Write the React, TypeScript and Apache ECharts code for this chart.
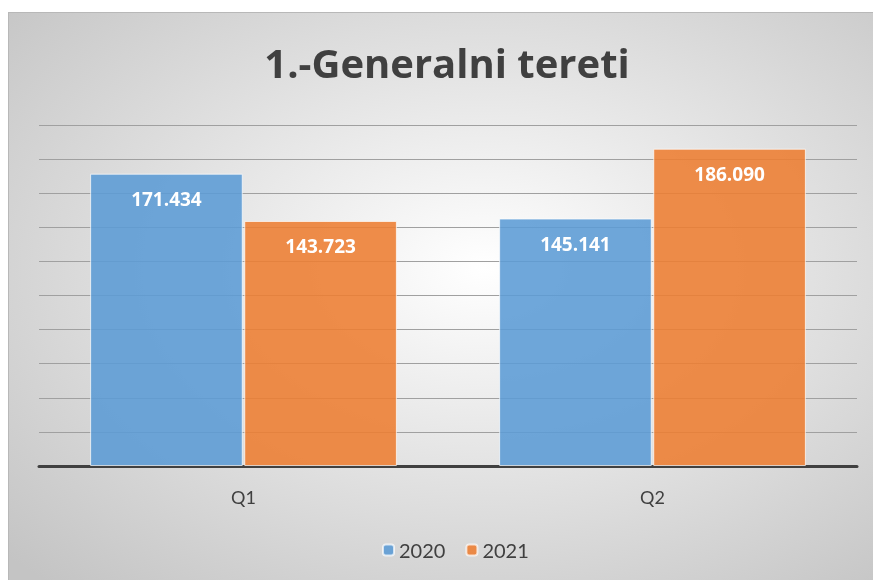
import React, { useEffect, useRef } from "react";
import * as echarts from "echarts";

const categories = ["Q1", "Q2"];
const series2020 = [171.434, 145.141];
const series2021 = [143.723, 186.09];
const seriesNames = ["2020", "2021"];

const fmt = (v: number) => v.toFixed(3);

export default function App() {
  const ref = useRef<HTMLDivElement>(null);
  useEffect(() => {
    if (!ref.current) return;
    const chart = echarts.init(ref.current, null, { renderer: "svg" });
    const font = "Lato, 'Open Sans', sans-serif";
    const boldFont = "'Open Sans', Lato, sans-serif";
    const label = {
      show: true,
      position: "insideTop",
      distance: 16,
      formatter: (p: any) => fmt(p.value),
      fontFamily: boldFont,
      fontSize: 19,
      fontWeight: "bold",
      color: "#ffffff",
    };
    chart.setOption({
      animation: false,
      backgroundColor: {
        type: "radial",
        x: 0.55,
        y: 0.45,
        r: 0.75,
        colorStops: [
          { offset: 0, color: "#ffffff" },
          { offset: 1, color: "#c4c4c4" },
        ],
      },
      title: {
        text: "1.-Generalni tereti",
        left: 433,
        top: 24,
        textAlign: "center",
        textStyle: { fontFamily: boldFont, fontSize: 40, fontWeight: "bold", color: "#404040" },
      },
      legend: {
        bottom: 15,
        left: 368,
        itemWidth: 11,
        itemHeight: 11,
        itemGap: 20,
        data: seriesNames,
        textStyle: { fontFamily: font, fontSize: 20, color: "#404040" },
      },
      grid: { left: 30, right: 16, top: 112, bottom: 114, containLabel: false },
      xAxis: {
        type: "category",
        data: categories,
        axisLine: { lineStyle: { color: "#404040", width: 3 } },
        axisTick: { show: false },
        axisLabel: { fontFamily: font, fontSize: 18, color: "#404040", margin: 22 },
      },
      yAxis: {
        type: "value",
        min: 0,
        max: 200,
        interval: 20,
        axisLabel: { show: false },
        axisLine: { show: false },
        axisTick: { show: false },
        splitLine: { lineStyle: { color: "#a0a0a0", width: 1 } },
      },
      series: [
        {
          name: seriesNames[0],
          type: "bar",
          data: series2020,
          barGap: "1%",
          barCategoryGap: "25%",
          itemStyle: { color: "rgba(91,155,213,0.88)", borderColor: "rgba(255,255,255,0.7)", borderWidth: 1 },
          label,
        },
        {
          name: seriesNames[1],
          type: "bar",
          data: series2021,
          barGap: "1%",
          barCategoryGap: "25%",
          itemStyle: { color: "rgba(237,125,49,0.88)", borderColor: "rgba(255,255,255,0.7)", borderWidth: 1 },
          label,
        },
      ],
    });
    return () => chart.dispose();
  }, []);
  return (
    <div
      ref={ref}
      style={{
        position: "fixed",
        left: 8,
        top: 12,
        width: 865,
        height: 568,
        borderTop: "1px solid #b8b8b8",
        borderLeft: "1px solid #b8b8b8",
        boxSizing: "border-box",
      }}
    />
  );
}
